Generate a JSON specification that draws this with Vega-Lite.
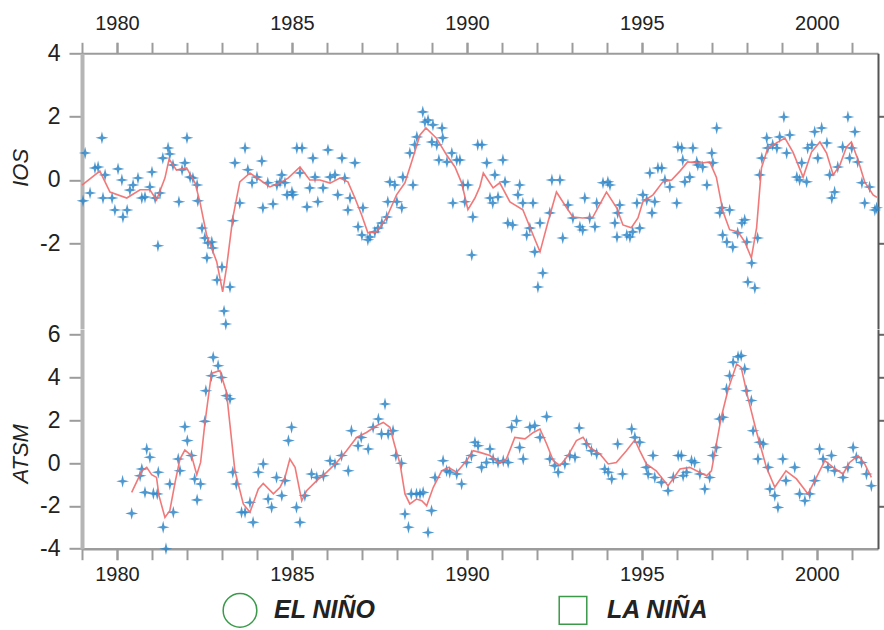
{
"$schema": "https://vega.github.io/schema/vega-lite/v6.json",
"autosize": {"type": "none"},
"padding": {"left": 82, "top": 53.3, "right": 802, "bottom": 576.7},
"background": "white",
"bounds": "flush",
"spacing": 0,
"config": {"view": {"stroke": null}, "font": "Liberation Sans", "axis": {"labelFont": "Liberation Sans", "titleFont": "Liberation Sans", "grid": false}},
"datasets": {
"ios": [
{"t":1979.09,"v":0.85},{"t":1979.03,"v":-0.66},{"t":1979.23,"v":-0.41},{"t":1979.37,"v":0.38},{"t":1979.46,"v":0.41},{"t":1979.57,"v":1.33},{"t":1979.66,"v":0.16},{"t":1979.60,"v":-0.57},{"t":1979.86,"v":-0.57},{"t":1979.94,"v":-0.95},{"t":1980.03,"v":0.35},{"t":1980.14,"v":0},{"t":1980.17,"v":-1.17},{"t":1980.29,"v":-0.95},{"t":1980.37,"v":-0.32},{"t":1980.46,"v":-0.16},{"t":1980.60,"v":0.06},{"t":1980.71,"v":-0.57},{"t":1980.80,"v":-0.54},{"t":1980.94,"v":-0.22},{"t":1981.00,"v":0.25},{"t":1981.09,"v":-0.57},{"t":1981.17,"v":-2.08},{"t":1981.23,"v":-0.41},{"t":1981.31,"v":0.69},{"t":1981.46,"v":1.01},{"t":1981.51,"v":0.82},{"t":1981.60,"v":0.47},{"t":1981.77,"v":-0.69},{"t":1981.86,"v":0.32},{"t":1981.94,"v":0.54},{"t":1982.00,"v":1.33},{"t":1982.09,"v":0.09},{"t":1982.17,"v":0.06},{"t":1982.29,"v":-0.16},{"t":1982.31,"v":-0.66},{"t":1982.43,"v":-1.52},{"t":1982.51,"v":-1.83},{"t":1982.60,"v":-1.99},{"t":1982.71,"v":-1.96},{"t":1982.57,"v":-2.46},{"t":1982.74,"v":-2.15},{"t":1982.86,"v":-3.16},{"t":1983.00,"v":-2.75},{"t":1983.06,"v":-4.14},{"t":1983.11,"v":-4.55},{"t":1983.23,"v":-3.38},{"t":1983.31,"v":-1.29},{"t":1983.37,"v":0.54},{"t":1983.51,"v":-0.73},{"t":1983.66,"v":1.01},{"t":1983.74,"v":0.32},{"t":1983.86,"v":-0.09},{"t":1984.00,"v":0.09},{"t":1984.14,"v":0.60},{"t":1984.17,"v":-0.88},{"t":1984.31,"v":-0.09},{"t":1984.46,"v":-0.76},{"t":1984.57,"v":-0.16},{"t":1984.66,"v":-0.06},
{"t":1984.71,"v":0.16},{"t":1984.80,"v":-0.09},{"t":1984.86,"v":-0.47},{"t":1985.03,"v":-0.47},{"t":1985.00,"v":-0.38},{"t":1985.14,"v":1.01},{"t":1985.29,"v":1.01},{"t":1985.23,"v":0.22},{"t":1985.43,"v":-0.85},{"t":1985.51,"v":-0.25},{"t":1985.60,"v":0.69},{"t":1985.66,"v":0.09},{"t":1985.74,"v":-0.69},{"t":1985.89,"v":-0.25},{"t":1986.03,"v":0.95},{"t":1986.09,"v":0.09},{"t":1986.23,"v":0.16},{"t":1986.31,"v":-0.47},{"t":1986.43,"v":0.69},{"t":1986.51,"v":0.06},{"t":1986.60,"v":-0.95},{"t":1986.66,"v":-0.57},{"t":1986.80,"v":0.54},{"t":1986.89,"v":-1.48},{"t":1987.00,"v":-1.74},{"t":1987.03,"v":-0.88},{"t":1987.17,"v":-1.89},{"t":1987.23,"v":-1.80},{"t":1987.37,"v":-1.64},{"t":1987.46,"v":-1.52},{"t":1987.57,"v":-1.36},{"t":1987.71,"v":-1.17},{"t":1987.74,"v":-0.69},{"t":1987.80,"v":-0.06},{"t":1987.94,"v":-0.16},{"t":1988.00,"v":-0.69},{"t":1988.14,"v":-0.88},{"t":1988.17,"v":0.09},{"t":1988.37,"v":0.85},{"t":1988.46,"v":-0.16},{"t":1988.51,"v":1.11},{"t":1988.57,"v":1.36},{"t":1988.74,"v":2.15},{"t":1988.80,"v":1.83},{"t":1988.89,"v":1.89},{"t":1989.00,"v":1.20},{"t":1989.03,"v":1.74},{"t":1989.14,"v":1.11},{"t":1989.29,"v":1.64},{"t":1989.31,"v":1.33},{"t":1989.20,"v":0.63},{"t":1989.43,"v":0.57},{"t":1989.57,"v":0.85},{"t":1989.60,"v":-0.73},{"t":1989.71,"v":0.63},{"t":1989.80,"v":0.63},{"t":1989.89,"v":-0.16},{"t":1989.94,"v":-0.69},{"t":1990.03,"v":-0.16},{"t":1990.14,"v":-2.37},{"t":1990.17,"v":-1.17},{"t":1990.31,"v":1.11},
{"t":1990.43,"v":1.11},{"t":1990.57,"v":0.54},{"t":1990.66,"v":-0.57},{"t":1990.74,"v":-0.73},{"t":1990.80,"v":0.16},{"t":1990.89,"v":-0.54},{"t":1991.03,"v":0.63},{"t":1991.09,"v":-0.06},{"t":1991.17,"v":-1.36},{"t":1991.31,"v":-1.42},{"t":1991.46,"v":-0.47},{"t":1991.51,"v":-0.16},{"t":1991.60,"v":-0.73},{"t":1991.71,"v":-1.74},{"t":1991.80,"v":-1.52},{"t":1991.89,"v":-0.73},{"t":1991.94,"v":-2.27},{"t":1992.09,"v":-1.36},{"t":1992.17,"v":-2.94},{"t":1992.03,"v":-3.38},{"t":1992.37,"v":-1.04},{"t":1992.43,"v":0},{"t":1992.66,"v":0},{"t":1992.74,"v":-1.83},{"t":1992.89,"v":-0.79},{"t":1993.03,"v":-1.20},{"t":1993.23,"v":-1.48},{"t":1993.31,"v":-1.58},{"t":1993.37,"v":-0.57},{"t":1993.51,"v":-1.20},{"t":1993.66,"v":-1.48},{"t":1993.71,"v":-0.73},{"t":1993.89,"v":-0.09},{"t":1994.03,"v":-0.06},{"t":1994.09,"v":-0.16},{"t":1994.23,"v":-1.36},{"t":1994.31,"v":-1.04},{"t":1994.37,"v":-0.79},{"t":1994.29,"v":-1.80},{"t":1994.57,"v":-1.74},{"t":1994.66,"v":-1.80},{"t":1994.74,"v":-1.64},{"t":1994.94,"v":-1.52},{"t":1994.86,"v":-0.73},{"t":1995.03,"v":-0.47},{"t":1995.14,"v":-0.63},{"t":1995.29,"v":-1.04},{"t":1995.37,"v":-0.69},{"t":1995.23,"v":0.22},{"t":1995.46,"v":0.38},{"t":1995.57,"v":0.38},{"t":1995.66,"v":0},{"t":1995.80,"v":-0.22},{"t":1996.00,"v":-0.73},{"t":1996.03,"v":1.04},
{"t":1996.14,"v":1.01},{"t":1996.17,"v":0.63},{"t":1996.23,"v":-0.06},{"t":1996.37,"v":0.09},{"t":1996.46,"v":1.01},{"t":1996.57,"v":0.57},{"t":1996.60,"v":0.47},{"t":1996.74,"v":0.41},{"t":1996.86,"v":-0.16},{"t":1997.00,"v":0.85},{"t":1997.03,"v":0.54},{"t":1997.14,"v":1.64},{"t":1997.23,"v":-1.04},{"t":1997.29,"v":-0.88},{"t":1997.51,"v":-0.95},{"t":1997.31,"v":-1.74},{"t":1997.43,"v":-1.96},{"t":1997.60,"v":-2.12},{"t":1997.74,"v":-1.67},{"t":1997.86,"v":-1.36},{"t":1997.94,"v":-1.26},{"t":1998.00,"v":-1.96},{"t":1998.14,"v":-2.62},{"t":1998.03,"v":-3.22},{"t":1998.23,"v":-3.41},{"t":1998.31,"v":-1.83},{"t":1998.37,"v":0.16},{"t":1998.43,"v":0.69},{"t":1998.57,"v":1.33},{"t":1998.60,"v":1.01},{"t":1998.74,"v":1.11},{"t":1998.86,"v":1.01},{"t":1998.94,"v":1.36},{"t":1999.06,"v":1.99},{"t":1999.14,"v":0.85},{"t":1999.23,"v":1.42},{"t":1999.43,"v":0.09},{"t":1999.51,"v":0},{"t":1999.57,"v":0.54},{"t":1999.71,"v":-0.06},{"t":1999.74,"v":1.01},{"t":1999.86,"v":1.11},{"t":1999.94,"v":1.52},{"t":2000.03,"v":0.69},{"t":2000.14,"v":1.64},{"t":2000.29,"v":1.17},{"t":2000.43,"v":-0.57},{"t":2000.51,"v":-0.38},{"t":2000.37,"v":0.16},{"t":2000.60,"v":0.41},{"t":2000.74,"v":1.04},{"t":2000.89,"v":1.99},{"t":2000.94,"v":0.69},{"t":2001.00,"v":1.01},{"t":2001.09,"v":1.52},{"t":2001.17,"v":0.57},{"t":2001.29,"v":-0.09},{"t":2001.37,"v":-0.73},{"t":2001.51,"v":-0.22},{"t":2001.66,"v":-0.95},{"t":2001.71,"v":-0.88}
],
"iosline": [
{"t":1979.0,"v":-0.16},{"t":1979.51,"v":0.28},{"t":1979.8,"v":-0.38},{"t":1980.28,"v":-0.57},{"t":1980.66,"v":-0.31},{"t":1980.94,"v":-0.31},{"t":1981.13,"v":-0.63},{"t":1981.37,"v":0.06},{"t":1981.49,"v":0.66},{"t":1981.7,"v":0.31},{"t":1981.99,"v":0.38},{"t":1982.23,"v":-0.09},{"t":1982.37,"v":-0.69},{"t":1982.56,"v":-1.73},{"t":1982.85,"v":-2.58},{"t":1983.02,"v":-3.53},{"t":1983.13,"v":-2.77},{"t":1983.31,"v":-1.2},{"t":1983.51,"v":-0.06},{"t":1983.8,"v":0.22},{"t":1984.09,"v":0.0},{"t":1984.37,"v":-0.22},{"t":1984.66,"v":-0.09},{"t":1984.89,"v":0.06},{"t":1985.23,"v":0.41},{"t":1985.51,"v":0},{"t":1985.8,"v":0},{"t":1986.09,"v":-0.1},{"t":1986.37,"v":0.06},{"t":1986.6,"v":-0.06},{"t":1986.8,"v":-0.57},{"t":1986.99,"v":-1.1},{"t":1987.17,"v":-1.67},{"t":1987.42,"v":-1.64},{"t":1987.7,"v":-1.2},{"t":1987.99,"v":-0.47},{"t":1988.23,"v":-0.09},{"t":1988.42,"v":0.57},{"t":1988.66,"v":1.42},{"t":1988.83,"v":1.64},{"t":1989.13,"v":1.32},{"t":1989.42,"v":0.79},{"t":1989.66,"v":0.41},{"t":1989.85,"v":-0.09},{"t":1990.03,"v":-0.94},{"t":1990.23,"v":-0.57},{"t":1990.37,"v":-0.22},{"t":1990.47,"v":0.22},{"t":1990.75,"v":-0.25},{"t":1990.94,"v":-0.09},{"t":1991.23,"v":-0.69},{"t":1991.6,"v":-0.94},{"t":1991.89,"v":-1.73},{"t":1992.09,"v":-2.27},{"t":1992.32,"v":-1.32},{"t":1992.56,"v":-0.38},{"t":1992.8,"v":-0.79},{"t":1993.03,"v":-1.17},{"t":1993.31,"v":-1.2},{"t":1993.6,"v":-1.17},{"t":1993.99,"v":-0.38},{"t":1994.28,"v":-0.88},{"t":1994.46,"v":-1.42},{"t":1994.7,"v":-1.51},{"t":1994.89,"v":-1.2},{"t":1995.03,"v":-0.69},{"t":1995.32,"v":-0.47},{"t":1995.6,"v":-0.06},{"t":1995.85,"v":0.0},{"t":1996.09,"v":0.28},{"t":1996.31,"v":0.57},{"t":1996.66,"v":0.53},{"t":1996.94,"v":0.57},{"t":1997.13,"v":0.09},{"t":1997.32,"v":-1.0},{"t":1997.51,"v":-1.57},{"t":1997.75,"v":-1.64},{"t":1997.94,"v":-1.95},{"t":1998.13,"v":-2.46},{"t":1998.28,"v":-1.51},{"t":1998.42,"v":0.38},{"t":1998.6,"v":1.01},{"t":1998.85,"v":1.17},{"t":1999.09,"v":1.32},{"t":1999.32,"v":0.88},{"t":1999.61,"v":0.09},{"t":1999.85,"v":0.88},{"t":2000.09,"v":1.2},{"t":2000.28,"v":0.85},{"t":2000.47,"v":0.16},{"t":2000.66,"v":0.47},{"t":2000.85,"v":1.04},{"t":2000.99,"v":1.2},{"t":2001.18,"v":0.63},{"t":2001.37,"v":-0.06},{"t":2001.61,"v":-0.47},{"t":2001.72,"v":-0.55}
],
"atsm": [
{"t":1980.16,"v":-0.85},{"t":1980.42,"v":-2.35},{"t":1980.66,"v":-0.59},{"t":1980.71,"v":-0.28},{"t":1980.85,"v":0.66},{"t":1980.94,"v":0.27},{"t":1980.80,"v":-1.37},{"t":1981.04,"v":-1.42},{"t":1981.18,"v":-0.43},{"t":1981.15,"v":-1.44},{"t":1981.32,"v":-3.0},{"t":1981.40,"v":-4.0},{"t":1981.51,"v":-0.98},{"t":1981.61,"v":-2.3},{"t":1981.75,"v":0.19},{"t":1981.80,"v":-0.36},{"t":1981.94,"v":1.7},{"t":1982.01,"v":1.05},{"t":1982.13,"v":0.35},{"t":1982.22,"v":-0.74},{"t":1982.29,"v":-1.72},{"t":1982.39,"v":-0.98},{"t":1982.51,"v":1.95},{"t":1982.54,"v":3.38},{"t":1982.70,"v":4.08},{"t":1982.75,"v":4.94},{"t":1982.89,"v":4.55},{"t":1982.99,"v":4.0},{"t":1983.13,"v":3.15},{"t":1983.23,"v":3.0},{"t":1983.31,"v":-0.43},{"t":1983.41,"v":-0.98},{"t":1983.56,"v":-2.3},{"t":1983.66,"v":-2.3},{"t":1983.80,"v":-1.84},{"t":1983.89,"v":-2.77},{"t":1984.04,"v":-0.43},{"t":1984.18,"v":-0.04},{"t":1984.32,"v":-1.68},{"t":1984.42,"v":-2.07},{"t":1984.56,"v":-0.67},
{"t":1984.71,"v":-1.52},{"t":1984.80,"v":-0.82},{"t":1984.90,"v":1.05},{"t":1984.99,"v":1.67},{"t":1985.13,"v":-2.07},{"t":1985.23,"v":-2.77},{"t":1985.37,"v":-1.52},{"t":1985.56,"v":-0.51},{"t":1985.71,"v":-0.67},{"t":1985.90,"v":-0.59},{"t":1986.09,"v":0.11},{"t":1986.23,"v":-0.04},{"t":1986.42,"v":0.35},{"t":1986.61,"v":-0.36},{"t":1986.70,"v":1.51},{"t":1986.89,"v":0.81},{"t":1986.98,"v":1.2},{"t":1987.18,"v":0.66},{"t":1987.32,"v":1.67},{"t":1987.47,"v":2.06},{"t":1987.56,"v":1.36},{"t":1987.66,"v":2.76},{"t":1987.75,"v":1.36},{"t":1987.89,"v":1.51},{"t":1987.97,"v":0.35},{"t":1988.13,"v":-0.01},{"t":1988.23,"v":-2.38},{"t":1988.33,"v":-3.0},{"t":1988.41,"v":-1.44},{"t":1988.56,"v":-1.44},{"t":1988.66,"v":-1.44},{"t":1988.75,"v":-1.37},{"t":1988.89,"v":-3.24},{"t":1988.99,"v":-2.22},{"t":1989.09,"v":-0.67},{"t":1989.32,"v":0.11},{"t":1989.42,"v":-0.36},{"t":1989.51,"v":-0.43},{"t":1989.71,"v":-0.51},{"t":1989.85,"v":-0.98},{"t":1989.99,"v":0.03},{"t":1990.13,"v":0.35},{"t":1990.23,"v":0.97},{"t":1990.32,"v":0.81},
{"t":1990.42,"v":-0.2},{"t":1990.56,"v":0.03},{"t":1990.66,"v":0.66},{"t":1990.75,"v":0.19},{"t":1990.89,"v":0.03},{"t":1991.04,"v":0.11},{"t":1991.18,"v":0.03},{"t":1991.28,"v":1.67},{"t":1991.42,"v":1.98},{"t":1991.51,"v":0.73},{"t":1991.61,"v":0.19},{"t":1991.80,"v":1.67},{"t":1991.94,"v":1.75},{"t":1992.09,"v":1.2},{"t":1992.28,"v":2.17},{"t":1992.37,"v":0.19},{"t":1992.51,"v":-0.12},{"t":1992.61,"v":-0.43},{"t":1992.80,"v":-0.04},{"t":1992.94,"v":0.35},{"t":1993.09,"v":0.27},{"t":1993.21,"v":1.64},{"t":1993.42,"v":0.89},{"t":1993.56,"v":0.58},{"t":1993.71,"v":0.43},{"t":1993.94,"v":-0.28},{"t":1994.04,"v":-0.43},{"t":1994.14,"v":-0.74},{"t":1994.31,"v":0.89},{"t":1994.45,"v":-0.51},{"t":1994.71,"v":1.59},{"t":1994.80,"v":1.2},{"t":1994.94,"v":0.97},{"t":1995.13,"v":-0.2},{"t":1995.18,"v":-0.51},{"t":1995.32,"v":0.35},{"t":1995.37,"v":-0.67},{"t":1995.56,"v":-0.9},{"t":1995.75,"v":-1.29},{"t":1995.90,"v":-0.67},{"t":1996.04,"v":0.35},
{"t":1996.13,"v":0.35},{"t":1996.18,"v":-0.59},{"t":1996.28,"v":-0.43},{"t":1996.42,"v":0.11},{"t":1996.51,"v":0.03},{"t":1996.66,"v":-0.51},{"t":1996.80,"v":-1.21},{"t":1996.94,"v":-0.67},{"t":1997.03,"v":0.35},{"t":1997.13,"v":0.73},{"t":1997.22,"v":2.06},{"t":1997.32,"v":2.14},{"t":1997.42,"v":3.46},{"t":1997.51,"v":4.08},{"t":1997.61,"v":4.71},{"t":1997.75,"v":4.97},{"t":1997.84,"v":5.02},{"t":1997.94,"v":4.4},{"t":1997.99,"v":3.38},{"t":1998.13,"v":2.92},{"t":1998.18,"v":1.51},{"t":1998.37,"v":0.97},{"t":1998.47,"v":0.89},{"t":1998.32,"v":0.19},{"t":1998.61,"v":-0.2},{"t":1998.66,"v":-1.21},{"t":1998.80,"v":-1.52},{"t":1998.89,"v":-2.07},{"t":1999.03,"v":0.19},{"t":1999.12,"v":-0.82},{"t":1999.37,"v":-0.2},{"t":1999.51,"v":-1.44},{"t":1999.66,"v":-1.76},{"t":1999.80,"v":-1.44},{"t":1999.94,"v":-0.82},{"t":2000.08,"v":0.66},{"t":2000.18,"v":0.19},{"t":2000.32,"v":-0.2},{"t":2000.42,"v":0.35},{"t":2000.51,"v":-0.36},{"t":2000.75,"v":-0.67},{"t":2000.89,"v":-0.2},{"t":2001.04,"v":0.73},{"t":2001.13,"v":0.27},{"t":2001.28,"v":0.03},{"t":2001.42,"v":-0.51},{"t":2001.56,"v":-1.06}
],
"atsmline": [
{"t":1980.42,"v":-1.37},{"t":1980.71,"v":-0.36},{"t":1980.85,"v":-0.2},{"t":1980.99,"v":-0.54},{"t":1981.13,"v":-0.67},{"t":1981.2,"v":-1.52},{"t":1981.37,"v":-2.54},{"t":1981.51,"v":-2.22},{"t":1981.66,"v":-0.9},{"t":1981.8,"v":0.19},{"t":1981.94,"v":0.61},{"t":1982.13,"v":0.35},{"t":1982.28,"v":-0.54},{"t":1982.39,"v":0.03},{"t":1982.51,"v":1.83},{"t":1982.7,"v":4.19},{"t":1982.94,"v":4.32},{"t":1983.13,"v":3.3},{"t":1983.37,"v":-0.36},{"t":1983.61,"v":-1.91},{"t":1983.8,"v":-2.3},{"t":1984.04,"v":-1.21},{"t":1984.18,"v":-0.95},{"t":1984.47,"v":-1.44},{"t":1984.66,"v":-1.13},{"t":1984.8,"v":-0.67},{"t":1984.94,"v":0.19},{"t":1985.09,"v":-0.2},{"t":1985.28,"v":-1.76},{"t":1985.42,"v":-1.29},{"t":1985.71,"v":-0.82},{"t":1985.99,"v":-0.43},{"t":1986.28,"v":0.03},{"t":1986.56,"v":0.58},{"t":1986.85,"v":1.2},{"t":1987.13,"v":1.43},{"t":1987.42,"v":1.75},{"t":1987.61,"v":1.9},{"t":1987.8,"v":1.67},{"t":1987.94,"v":0.81},{"t":1988.09,"v":-0.04},{"t":1988.23,"v":-1.44},{"t":1988.37,"v":-1.91},{"t":1988.56,"v":-1.68},{"t":1988.71,"v":-1.76},{"t":1988.85,"v":-1.99},{"t":1989.04,"v":-1.13},{"t":1989.28,"v":-0.36},{"t":1989.47,"v":-0.2},{"t":1989.71,"v":-0.43},{"t":1989.99,"v":0.11},{"t":1990.18,"v":0.58},{"t":1990.37,"v":0.5},{"t":1990.66,"v":0.35},{"t":1990.94,"v":-0.01},{"t":1991.13,"v":0.19},{"t":1991.37,"v":1.2},{"t":1991.66,"v":1.13},{"t":1991.9,"v":1.43},{"t":1992.09,"v":1.59},{"t":1992.28,"v":0.89},{"t":1992.47,"v":0.11},{"t":1992.66,"v":-0.12},{"t":1992.89,"v":0.35},{"t":1993.13,"v":1.05},{"t":1993.32,"v":1.2},{"t":1993.51,"v":0.73},{"t":1993.8,"v":0.43},{"t":1994.04,"v":-0.04},{"t":1994.27,"v":0.03},{"t":1994.56,"v":0.58},{"t":1994.8,"v":1.08},{"t":1994.94,"v":0.58},{"t":1995.13,"v":-0.04},{"t":1995.41,"v":-0.36},{"t":1995.75,"v":-1.06},{"t":1995.99,"v":-0.51},{"t":1996.09,"v":-0.28},{"t":1996.37,"v":-0.2},{"t":1996.56,"v":-0.36},{"t":1996.85,"v":-0.59},{"t":1996.99,"v":-0.36},{"t":1997.13,"v":0.89},{"t":1997.27,"v":2.14},{"t":1997.47,"v":3.46},{"t":1997.71,"v":4.63},{"t":1997.84,"v":4.47},{"t":1998.03,"v":3.07},{"t":1998.27,"v":1.51},{"t":1998.56,"v":-0.2},{"t":1998.8,"v":-1.13},{"t":1999.12,"v":-0.36},{"t":1999.42,"v":-0.74},{"t":1999.75,"v":-1.44},{"t":1999.99,"v":-0.67},{"t":2000.23,"v":0.11},{"t":2000.47,"v":-0.2},{"t":2000.75,"v":-0.51},{"t":2000.94,"v":0.03},{"t":2001.18,"v":0.35},{"t":2001.37,"v":-0.04},{"t":2001.56,"v":-0.67}
],
"eventos": [{"fen":"EL NIÑO"},{"fen":"LA NIÑA"}]
},
"vconcat": [
{
"width": 796, "height": 275.5,
"resolve": {"axis": {"x": "independent", "y": "independent"}},
"layer": [
{"mark": {"type": "rule", "color": "#9c9c9c", "strokeWidth": 2.5},
 "encoding": {"y": {"datum": 0, "type": "quantitative", "scale": {"domain": [-4.7, 4], "nice": false, "zero": false}, "axis": null}}},
{"data": {"name": "ios"},
 "mark": {"type": "point", "shape": "M0,-1L0.2,-0.2L1,0L0.2,0.2L0,1L-0.2,0.2L-1,0L-0.2,-0.2Z", "filled": true, "size": 165, "color": "#2f86c8", "opacity": 0.85},
 "encoding": {
  "x": {"field": "t", "type": "quantitative", "scale": {"domain": [1979, 2001.75], "nice": false, "zero": false},
   "axis": {"orient": "top", "values": [1980, 1985, 1990, 1995, 2000], "format": "d", "labelOverlap": false, "labelFlush": false, "tickSize": 11, "tickWidth": 2, "tickColor": "#9c9c9c", "domainColor": "#9c9c9c", "domainWidth": 2, "labelFontSize": 20, "labelColor": "#222", "labelPadding": 9, "title": null}},
  "y": {"field": "v", "type": "quantitative", "scale": {"domain": [-4.7, 4], "nice": false, "zero": false},
   "axis": {"orient": "left", "values": [-2, 0, 2, 4], "labelExpr": "'' + datum.value", "tickSize": 13, "tickWidth": 2, "tickColor": "#9c9c9c", "domainColor": "#b5b5b5", "domainWidth": 4, "labelFontSize": 23, "labelColor": "#222", "labelPadding": 9, "title": "IOS", "titleFontStyle": "italic", "titleFontWeight": "normal", "titleFontSize": 22, "titleColor": "#222", "titleX": -62, "titleY": 114, "titleAngle": -90, "titleAlign": "center", "titleBaseline": "middle"}}
 }},
{"data": {"name": "iosline"},
 "mark": {"type": "line", "color": "#ef6a6a", "strokeWidth": 1.6, "opacity": 0.9},
 "encoding": {
  "x": {"field": "t", "type": "quantitative", "scale": {"domain": [1979, 2001.75], "nice": false, "zero": false},
   "axis": {"orient": "top", "values": [1979,1980,1981,1982,1983,1984,1985,1986,1987,1988,1989,1990,1991,1992,1993,1994,1995,1996,1997,1998,1999,2000,2001], "labels": false, "tickSize": 11, "tickWidth": 2, "tickColor": "#9c9c9c", "domain": false, "title": null}},
  "y": {"field": "v", "type": "quantitative", "scale": {"domain": [-4.7, 4], "nice": false, "zero": false},
   "axis": {"orient": "right", "values": [-2, 2], "labels": false, "tickSize": 6, "tickWidth": 2, "tickColor": "#666", "domainColor": "#555", "domainWidth": 2, "title": null}}
 }}
]
},
{
"width": 796, "height": 219.4,
"resolve": {"axis": {"x": "independent", "y": "independent"}},
"layer": [
{"mark": {"type": "rule", "color": "#555", "strokeWidth": 1.8},
 "encoding": {"y": {"datum": 0, "type": "quantitative", "scale": {"domain": [-4, 6.25], "nice": false, "zero": false}, "axis": null}}},
{"data": {"name": "atsm"},
 "mark": {"type": "point", "shape": "M0,-1L0.2,-0.2L1,0L0.2,0.2L0,1L-0.2,0.2L-1,0L-0.2,-0.2Z", "filled": true, "size": 165, "color": "#2f86c8", "opacity": 0.85},
 "encoding": {
  "x": {"field": "t", "type": "quantitative", "scale": {"domain": [1979, 2001.75], "nice": false, "zero": false},
   "axis": {"orient": "bottom", "values": [1980, 1985, 1990, 1995, 2000], "format": "d", "labelOverlap": false, "labelFlush": false, "tickSize": 11, "tickWidth": 2, "tickColor": "#9c9c9c", "domainColor": "#9c9c9c", "domainWidth": 2.5, "labelFontSize": 20, "labelColor": "#222", "labelPadding": 5, "title": null}},
  "y": {"field": "v", "type": "quantitative", "scale": {"domain": [-4, 6.25], "nice": false, "zero": false},
   "axis": {"orient": "left", "values": [-4, -2, 0, 2, 4, 6], "labelExpr": "'' + datum.value", "tickSize": 13, "tickWidth": 2, "tickColor": "#9c9c9c", "domainColor": "#b5b5b5", "domainWidth": 4, "labelFontSize": 23, "labelColor": "#222", "labelPadding": 9, "title": "ATSM", "titleFontStyle": "italic", "titleFontWeight": "normal", "titleFontSize": 22, "titleColor": "#222", "titleX": -62, "titleY": 124, "titleAngle": -90, "titleAlign": "center", "titleBaseline": "middle"}}
 }},
{"data": {"name": "atsmline"},
 "mark": {"type": "line", "color": "#ef6a6a", "strokeWidth": 1.6, "opacity": 0.9},
 "encoding": {
  "x": {"field": "t", "type": "quantitative", "scale": {"domain": [1979, 2001.75], "nice": false, "zero": false},
   "axis": {"orient": "bottom", "values": [1979,1980,1981,1982,1983,1984,1985,1986,1987,1988,1989,1990,1991,1992,1993,1994,1995,1996,1997,1998,1999,2000,2001], "labels": false, "tickSize": 11, "tickWidth": 2, "tickColor": "#9c9c9c", "domain": false, "title": null}},
  "y": {"field": "v", "type": "quantitative", "scale": {"domain": [-4, 6.25], "nice": false, "zero": false},
   "axis": {"orient": "right", "values": [-2, 2, 4, 6], "labels": false, "tickSize": 6, "tickWidth": 2, "tickColor": "#666", "domainColor": "#555", "domainWidth": 2, "title": null}}
 }},
{"mark": {"type": "text", "text": "0°, 110°W", "align": "left", "baseline": "middle", "fontSize": 20, "color": "#222", "font": "Liberation Sans"},
 "encoding": {"x": {"datum": 1979.37, "type": "quantitative", "axis": null}, "y": {"datum": 3.95, "type": "quantitative", "axis": null}}},
{"mark": {"type": "text", "text": "(", "align": "center", "baseline": "middle", "fontSize": 17, "color": "#d42020", "font": "Liberation Sans"},
 "encoding": {"x": {"datum": 1982.4, "type": "quantitative", "axis": null}, "y": {"datum": 4.1, "type": "quantitative", "axis": null}}},
{"data": {"name": "eventos"},
 "mark": {"type": "point", "filled": false, "opacity": 0, "color": "#3a9a4a", "strokeWidth": 1.5},
 "encoding": {
  "shape": {"field": "fen", "type": "nominal", "scale": {"domain": ["EL NIÑO", "LA NIÑA"], "range": ["circle", "square"]},
   "legend": {"orient": "none", "legendX": 140, "legendY": 539, "direction": "horizontal", "columns": 2, "columnPadding": 179, "title": null, "labelFontSize": 25, "labelFontWeight": "bold", "labelFontStyle": "italic", "labelColor": "#222", "labelFont": "Liberation Sans", "labelOffset": 16, "symbolOpacity": 1, "symbolStrokeColor": "#3a9a4a", "symbolStrokeWidth": 1.5, "symbolFillColor": "transparent"}},
  "size": {"field": "fen", "type": "ordinal", "scale": {"domain": ["EL NIÑO", "LA NIÑA"], "range": [1134, 760]}}
 }}
]
}
]
}
